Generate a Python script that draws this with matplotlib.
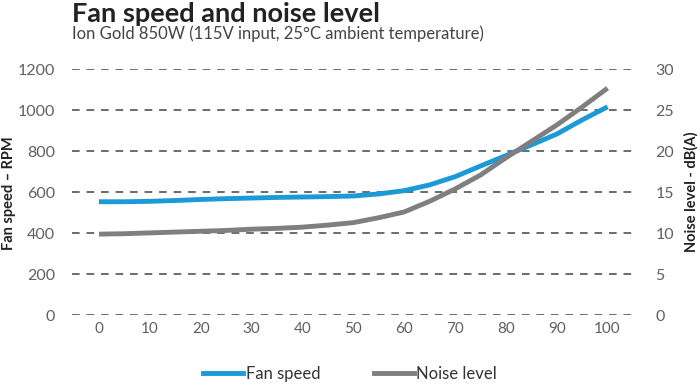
import matplotlib
matplotlib.use("Agg")
import matplotlib.pyplot as plt
from matplotlib.lines import Line2D

load = [0, 5, 10, 15, 20, 25, 30, 35, 40, 45, 50, 55, 60, 65, 70, 75, 80, 85, 90, 95, 100]
fan_rpm = [554, 554, 556, 560, 565, 569, 572, 575, 577, 579, 582, 592, 608, 636, 676, 728,
           779, 831, 884, 953, 1017]
noise_db = [9.9, 9.95, 10.05, 10.15, 10.25, 10.35, 10.5, 10.6, 10.75, 11.0, 11.3, 11.9, 12.6,
            13.9, 15.4, 17.1, 19.2, 21.2, 23.2, 25.4, 27.7]
x_ticks = [0, 10, 20, 30, 40, 50, 60, 70, 80, 90, 100]
left_ticks = [0, 200, 400, 600, 800, 1000, 1200]
right_ticks = [0, 5, 10, 15, 20, 25, 30]

plt.rcParams['font.family'] = ['Lato', 'DejaVu Sans']

BLUE = '#1b9ad7'
GRAY = '#7f7f7f'
TICK = '#606060'

fig = plt.figure(figsize=(7.0, 3.84), dpi=100)
ax = fig.add_axes([72/700, 1-315.3/384, (633-72)/700, (315.3-69.3)/384])
ax2 = ax.twinx()

ax.set_xlim(-5.3, 105)
ax.set_ylim(0, 1200)
ax2.set_ylim(0, 30)

for t in left_ticks:
    ax.axhline(t, color='#444444', lw=1.1, ls=(0, (5, 4.5)), zorder=1)

ax.plot(load, fan_rpm, color=BLUE, lw=3.5, solid_capstyle='butt', solid_joinstyle='round', zorder=3)
ax2.plot(load, noise_db, color=GRAY, lw=3.5, solid_capstyle='butt', solid_joinstyle='round', zorder=3)

for a in (ax, ax2):
    for s in a.spines.values():
        s.set_visible(False)

ax.set_xticks(x_ticks)
ax.set_xticklabels([str(v) for v in x_ticks])
ax.set_yticks(left_ticks)
ax.set_yticklabels([str(v) for v in left_ticks])
ax2.set_yticks(right_ticks)
ax2.set_yticklabels([str(v) for v in right_ticks])

ax.tick_params(axis='x', length=0, pad=5, labelsize=11, labelcolor=TICK)
ax.tick_params(axis='y', length=0, pad=12, labelsize=11.5, labelcolor=TICK)
ax2.tick_params(axis='y', length=0, pad=16, labelsize=11.5, labelcolor=TICK)

fig.text(9/700, 1-193/384, 'Fan speed – RPM', fontsize=10.5, fontweight='bold', color='#222222',
         rotation=90, ha='center', va='center')
fig.text(691/700, 1-192/384, 'Noise level - dB(A)', fontsize=10.5, fontweight='bold', color='#222222',
         rotation=90, ha='center', va='center')

fig.text(72/700, 1-22/384, 'Fan speed and noise level', fontsize=19.5, fontweight='bold',
         color='#222222', ha='left', va='baseline')
fig.text(72/700, 1-39/384, 'Ion Gold 850W (115V input, 25°C ambient temperature)', fontsize=12,
         color='#444444', ha='left', va='baseline')

handles = [Line2D([], [], color=BLUE, lw=3.5), Line2D([], [], color=GRAY, lw=3.5)]
fig.legend(handles, ['Fan speed', 'Noise level'], loc='center', bbox_to_anchor=(0.5, 1-374/384),
           ncol=2, frameon=False, fontsize=12, handlelength=2.4, handletextpad=0.15,
           columnspacing=3.2, labelcolor='#333333')

fig.savefig('out.png', dpi=100)
